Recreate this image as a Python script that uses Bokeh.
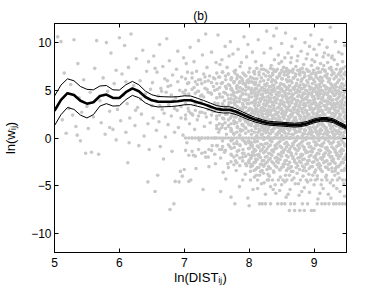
from bokeh.plotting import figure
from bokeh.models import (ColumnDataSource, LinearAxis, FixedTicker, Range1d,
                          CustomJSTickFormatter)
from bokeh.embed import file_html
from bokeh.resources import INLINE

# ---------------- data ----------------
x_ticks = [5, 6, 7, 8, 9]
y_ticks = [-10, -5, 0, 5, 10]

x_fit = [5.0, 5.1, 5.2, 5.3, 5.4, 5.5, 5.6, 5.7, 5.8, 5.9, 6.0, 6.1, 6.2, 6.3, 6.4, 6.5,
         6.6, 6.7, 6.8, 6.9, 7.0, 7.1, 7.2, 7.3, 7.4, 7.5, 7.6, 7.7, 7.8, 7.9, 8.0, 8.1,
         8.2, 8.3, 8.4, 8.5, 8.6, 8.7, 8.8, 8.9, 9.0, 9.1, 9.2, 9.3, 9.4, 9.5]
y_fit = [2.85, 4.00, 4.70, 4.50, 3.90, 3.60, 3.75, 4.40, 4.55, 4.20, 4.20, 4.80, 5.20, 4.90,
         4.30, 3.95, 3.80, 3.80, 3.80, 3.85, 3.95, 3.95, 3.75, 3.55, 3.30, 3.05, 2.95, 2.95,
         2.75, 2.45, 2.15, 1.90, 1.70, 1.55, 1.50, 1.45, 1.40, 1.35, 1.40, 1.55, 1.80, 1.95,
         1.95, 1.80, 1.45, 1.10]
y_upper = [4.40, 5.55, 6.20, 6.00, 5.40, 5.10, 5.05, 5.45, 5.50, 5.05, 5.02, 5.58, 5.93, 5.58,
           4.92, 4.53, 4.35, 4.32, 4.30, 4.33, 4.42, 4.40, 4.17, 3.93, 3.66, 3.39, 3.28, 3.27,
           3.05, 2.73, 2.41, 2.14, 1.92, 1.75, 1.70, 1.65, 1.60, 1.55, 1.60, 1.75, 2.00, 2.15,
           2.15, 2.00, 1.65, 1.30]
y_lower = [1.30, 2.45, 3.20, 3.00, 2.40, 2.10, 2.45, 3.35, 3.60, 3.35, 3.38, 4.02, 4.47, 4.22,
           3.68, 3.37, 3.25, 3.28, 3.30, 3.37, 3.48, 3.50, 3.33, 3.17, 2.94, 2.71, 2.62, 2.63,
           2.45, 2.17, 1.89, 1.66, 1.48, 1.35, 1.30, 1.25, 1.20, 1.15, 1.20, 1.35, 1.60, 1.75,
           1.75, 1.60, 1.25, 0.90]

# scattered observations, read region by region
pts_short = [(5.05,10.6),(5.1,10.1),(5.12,1.9),(5.15,6.8),(5.18,0.5),(5.22,3.1),(5.25,5.6),(5.28,2.4),
    (5.3,10.3),(5.33,1.2),(5.36,7.8),(5.38,4.2),(5.4,-0.3),(5.42,2.7),(5.45,6.1),(5.48,-1.6),(5.5,3.3),
    (5.52,1.0),(5.55,4.8),(5.57,-1.5),(5.6,2.2),(5.62,7.3),(5.65,10.2),(5.68,-1.7),(5.7,3.9),(5.72,1.6),
    (5.75,6.3),(5.78,0.4),(5.8,10.0),(5.82,4.9),(5.85,2.8),(5.87,8.9),(5.9,0.9),(5.92,5.7),(5.95,-0.2),
    (5.97,3.0),(6.0,10.5),(6.02,1.8),(6.04,6.7),(6.06,4.5),(6.08,9.7),(6.1,0.6),(6.12,3.6),(6.14,7.4),
    (6.16,2.1),(6.18,10.9),(6.13,-2.6),(6.22,5.5),(6.24,1.3),(6.26,8.3),(6.28,3.2),(6.3,-0.8),(6.32,6.0),
    (6.34,2.5),(6.36,9.2),(6.38,0.2),(6.4,4.6),(6.42,7.0),(6.44,1.5),(6.46,-1.2),(6.48,5.1),(6.5,3.4),
    (6.1,5.9),(5.95,7.1),(5.35,0.3),(6.25,2.9),(6.45,8.0),(6.33,4.1),(5.85,1.1),(6.15,-0.5),(6.44,-4.6)]

pts_mid = [(6.51,5.8),(6.52,2.1),(6.53,8.6),(6.55,-5.6),(6.56,3.9),(6.57,0.8),(6.58,6.9),(6.6,4.4),
    (6.61,1.7),(6.62,9.8),(6.63,-0.9),(6.64,5.2),(6.66,3.0),(6.67,7.5),(6.68,-2.2),(6.69,2.6),(6.7,6.2),
    (6.71,0.1),(6.72,4.8),(6.73,10.4),(6.75,1.4),(6.76,3.5),(6.77,8.1),(6.78,-7.5),(6.79,5.5),(6.8,2.3),
    (6.81,-1.4),(6.82,6.6),(6.83,3.9),(6.84,-6.9),(6.85,0.6),(6.86,-4.55),(6.87,4.2),(6.88,7.2),(6.89,2.9),
    (6.9,9.1),(6.91,1.1),(6.92,-4.6),(6.93,5.0),(6.94,-3.5),(6.95,3.3),(6.96,6.4),(6.97,-4.0),(6.98,0.3),
    (6.99,8.4),(7.0,-3.3),(7.01,4.6),(7.02,2.0),(7.03,7.8),(7.04,-0.5),(7.05,5.7),(7.06,3.1),(7.07,-4.55),
    (7.08,1.5),(7.09,9.5),(7.1,-4.4),(7.11,4.0),(7.12,6.8),(7.13,2.4),(7.14,-1.8),(7.15,5.3),(7.16,0.9),
    (7.17,3.6),(7.18,-3.2),(7.19,7.0),(7.2,1.9),(7.21,4.9),(7.22,10.2),(7.23,-0.2),(7.24,2.7),(7.25,6.1),
    (7.26,3.8),(7.27,0.0),(7.28,8.7),(7.29,-5.4),(7.3,4.3),(7.31,1.2),(7.32,5.9),(7.33,-2.0),(7.34,2.2),
    (7.35,7.4),(7.36,0.0),(7.37,3.4),(7.38,-1.2),(7.39,6.5),(7.4,1.6),(7.41,4.7),(7.42,9.0),(7.43,-0.8),
    (7.44,2.8),(7.45,5.4),(7.46,0.0),(7.47,3.7),(7.48,-2.7),(7.49,7.9),(7.5,1.0),(6.55,7.3),(6.65,4.9),
    (6.74,6.0),(6.8,4.5),(6.9,5.9),(6.98,4.8),(7.05,6.9),(7.1,2.6),(7.15,8.0),(7.2,5.6),(7.25,4.4),
    (7.3,6.7),(7.35,5.1),(7.4,3.0),(7.45,6.3),(7.02,3.6),(6.95,2.1),(6.85,3.1),(6.75,5.4),(6.62,3.4),
    (7.33,10.9),(7.12,0.0),(7.22,0.0),(6.59,-3.9),(7.38,-3.0)]

pts_long = [(7.52,10.8),(7.58,8.2),(7.63,9.6),(7.66,7.4),(7.71,10.1),(7.75,8.8),(7.79,7.1),(7.83,9.3),
    (7.88,7.9),(7.92,10.6),(7.96,8.5),(8.01,7.3),(8.05,9.0),(8.1,8.0),(8.14,10.3),(8.19,7.6),(8.23,8.9),
    (8.27,11.2),(7.55,7.7),(7.69,8.6),(7.86,7.5),(8.08,7.0),(8.22,7.2),(7.98,9.8),
    (7.51,5.1),(7.53,6.4),(7.55,4.3),(7.57,5.7),(7.59,6.9),(7.61,4.8),(7.62,3.9),(7.64,6.1),(7.65,5.2),
    (7.67,4.5),(7.68,6.7),(7.7,5.5),(7.72,4.1),(7.73,6.3),(7.74,5.0),(7.76,4.7),(7.77,5.9),(7.78,6.8),
    (7.8,4.2),(7.81,5.4),(7.82,6.5),(7.84,4.9),(7.85,5.8),(7.87,4.4),(7.89,6.2),(7.9,5.1),(7.91,4.0),
    (7.93,6.6),(7.94,5.6),(7.95,4.6),(7.97,6.0),(7.99,5.3),(8.0,4.3),(8.02,6.4),(8.03,5.0),(8.04,4.7),
    (8.06,5.8),(8.07,6.9),(8.09,4.4),
    (7.5,2.3),(7.52,3.6),(7.54,1.5),(7.56,2.9),(7.58,1.1),(7.6,3.4),(7.61,2.0),(7.63,1.6),(7.64,3.0),
    (7.66,2.5),(7.68,1.3),(7.69,3.7),(7.71,2.1),(7.72,1.0),(7.74,3.2),(7.75,2.6),(7.77,1.7),(7.78,3.5),
    (7.8,2.2),(7.82,1.2),(7.83,2.9),(7.85,3.8),(7.86,1.8),(7.88,2.5),(7.89,1.4),(7.91,3.3),(7.92,2.0),
    (7.94,1.1),(7.95,2.7),(7.97,3.6),(7.98,1.6),(8.0,2.4),(8.01,3.1),(8.03,1.3),(8.05,2.8),(8.06,3.7),
    (8.08,1.9),
    (7.51,-0.8),(7.53,0.6),(7.56,-2.1),(7.59,-0.3),(7.62,-1.5),(7.65,0.4),(7.67,-2.7),(7.7,-0.9),
    (7.73,-1.8),(7.76,0.5),(7.79,-2.4),(7.81,-0.6),(7.84,-1.3),(7.87,0.7),(7.9,-2.0),(7.93,-0.4),
    (7.96,-2.9),(7.99,-1.1),(7.58,-1.2),(7.74,-0.2),(7.92,-1.6),
    (7.56,-5.6),(7.6,-3.6),(7.64,-4.3),(7.72,-6.2),(7.78,-6.9),(7.8,-3.4),(7.85,-5.1),(7.9,-4.4),
    (7.94,-3.8),(7.98,-6.3),(8.02,-4.4),(8.06,-5.4),(8.1,-3.3),(8.13,-4.4),(8.16,-6.9),(8.19,-4.8),
    (8.22,-3.7),(8.25,-5.9),(8.28,-4.4),(7.68,-3.1),(8.0,-7.1)]

pts_far = [(8.33,9.4),(8.38,10.7),(8.45,8.7),(8.5,9.9),(8.56,11.0),(8.6,8.9),(8.66,9.6),(8.71,10.4),
    (8.75,8.6),(8.8,9.1),(8.86,10.0),(8.9,8.8),(8.95,10.8),(9.0,9.3),(9.04,8.7),(9.08,9.8),(9.12,10.3),
    (9.16,8.9),(9.2,9.5),(9.25,11.6),(9.28,8.6),(9.33,10.1),(9.38,9.0),(9.43,8.8),(9.47,9.7),(8.42,11.5),
    (8.93,9.6),(9.22,8.7),
    (8.31,6.5),(8.34,7.6),(8.36,6.1),(8.39,8.2),(8.41,7.0),(8.43,6.4),(8.46,7.8),(8.48,6.8),(8.51,6.2),
    (8.53,7.4),(8.55,8.4),(8.58,6.6),(8.6,7.1),(8.62,6.0),(8.64,7.9),(8.67,6.9),(8.69,6.3),(8.72,7.5),
    (8.74,8.1),(8.77,6.7),(8.79,7.2),(8.81,6.1),(8.84,7.7),(8.86,6.5),(8.88,8.3),(8.91,7.0),(8.93,6.2),
    (8.96,7.6),(8.98,6.8),(9.01,8.0),(9.03,6.4),(9.05,7.3),(9.07,6.9),(9.1,7.8),(9.12,6.3),(9.14,8.5),
    (9.17,7.1),(9.19,6.6),(9.21,7.9),(9.24,6.2),(9.26,7.4),(9.29,6.8),(9.31,8.2),(9.34,6.5),(9.36,7.7),
    (9.39,6.1),(9.41,7.2),(9.44,8.0),(9.46,6.7),(9.49,7.5),(8.37,7.2),(8.5,8.0),(8.65,8.4),(8.83,6.9),
    (8.97,8.2),(9.09,6.0),(9.27,8.4),(9.4,6.9),(8.57,7.0),(9.15,7.6),
    (8.02,-3.5),(8.11,-3.9),(8.2,-3.4),(8.29,-3.8),(8.38,-3.6),(8.47,-3.3),(8.56,-3.9),(8.65,-3.5),
    (8.74,-3.7),(8.83,-3.4),(8.92,-3.8),(9.01,-3.6),(9.1,-3.3),(9.19,-3.9),(9.28,-3.5),(9.37,-3.7),
    (9.46,-3.4),(8.6,-3.2),(9.05,-3.95),(9.33,-3.2),
    (8.3,-4.4),(8.36,-4.4),(8.45,-4.4),(8.52,-4.4),(8.58,-4.4),(8.66,-4.4),(8.79,-4.4),(8.88,-4.4),
    (8.95,-4.4),(9.02,-4.4),(9.12,-4.4),(9.2,-4.4),(9.28,-4.4),(9.36,-4.4),(9.44,-4.4),(9.49,-4.4),
    (8.33,-5.1),(8.41,-5.8),(8.5,-4.9),(8.57,-6.2),(8.63,-5.4),(8.71,-4.8),(8.77,-6.0),(8.85,-5.2),
    (8.93,-5.7),(9.0,-4.9),(9.06,-6.4),(9.14,-5.3),(9.22,-5.9),(9.3,-5.0),(9.4,-5.6),(9.47,-6.1),
    (8.47,-5.5),(9.26,-6.3),
    (8.2,-6.9),(8.25,-6.9),(8.33,-6.9),(8.44,-6.9),(8.5,-6.9),(8.55,-6.9),(8.64,-6.9),(8.7,-6.9),
    (8.82,-6.9),(8.9,-6.9),(9.05,-6.9),(9.12,-6.9),(9.17,-6.9),(9.23,-6.9),(9.3,-6.9),(9.34,-6.9),
    (9.39,-6.9),(9.44,-6.9),(9.48,-6.9),
    (8.62,-7.6),(8.7,-7.6),(8.78,-7.6),(8.96,-7.6),(9.0,-7.6),(8.85,-7.6),
    (8.08,-4.1),(8.16,-3.9),(8.23,-4.7),(8.31,-4.0),(8.4,-4.9),(8.48,-4.1),(8.55,-4.6),(8.62,-3.9),
    (8.69,-4.2),(8.76,-4.8),(8.83,-4.0),(8.9,-4.6),(8.98,-3.9),(9.05,-4.3),(9.11,-4.9),(9.18,-4.1),
    (9.25,-4.7),(9.32,-3.9),(9.39,-4.2),(9.46,-4.8),(8.13,-5.3),(8.37,-5.4),(8.6,-5.9),(8.81,-5.6),
    (9.09,-5.8),(9.35,-5.3)]

# dense part of the cloud, read as rows of values along fixed sets of distances
xs_near = [7.02,7.07,7.12,7.17,7.22,7.27,7.32,7.37,7.42,7.47]
rows_near = [
    [6.2,5.8,6.3,5.9,6.1,5.7,6.4,6.0,5.8,6.2],
    [5.0,4.6,5.1,4.7,4.9,4.5,5.2,4.8,4.6,5.0],
    [2.4,2.8,2.5,2.9,2.3,2.7,2.6,3.0,2.4,2.8],
    [0.0,0.0,0.0,0.0,0.0,0.0,0.0,0.0,0.0,0.0],
    [-1.3,-1.8,-1.4,-1.9,-1.2,-1.6,-1.5,-2.0,-1.3,-1.7],
]
xs_mid = [7.50,7.545,7.59,7.635,7.68,7.725,7.77,7.815,7.86,7.905,7.95,7.995,8.04,8.085]
rows_mid = [
    [6.8,6.4,6.9,6.5,6.7,6.3,7.0,6.6,6.4,6.8,6.5,6.9,6.3,6.7],
    [5.7,5.3,5.8,5.4,5.6,5.2,5.9,5.5,5.3,5.7,5.4,5.8,5.2,5.6],
    [4.2,4.6,4.3,4.7,4.1,4.5,4.4,4.8,4.2,4.6,4.0,4.5,4.3,4.7],
    [3.5,3.1,3.6,3.2,3.4,3.0,3.7,3.3,3.1,3.5,3.2,3.6,3.0,3.4],
    [2.0,2.4,2.1,2.5,1.9,2.3,2.2,2.6,2.0,2.4,1.8,2.3,2.1,2.5],
    [1.3,0.9,1.4,1.0,1.2,0.8,1.5,1.1,0.9,1.3,1.0,1.4,0.8,1.2],
    [0.0,0.0,0.0,0.0,0.0,0.0,0.0,0.0,0.0,0.0,0.0,0.0,0.0,0.0],
    [-0.8,-1.2,-0.9,-1.3,-0.7,-1.1,-1.0,-1.4,-0.8,-1.2,-0.6,-1.1,-0.9,-1.3],
]
xs_edge = [7.72,7.765,7.81,7.855,7.9,7.945,7.99,8.035,8.08]
rows_edge = [
    [6.1,5.8,6.2,5.9,6.0,5.7,6.1,5.9,6.2],
    [5.1,4.8,5.2,4.9,4.7,5.0,5.2,4.8,5.0],
    [3.7,4.0,3.8,4.1,3.6,3.9,4.0,3.7,3.9],
    [2.9,2.6,2.8,2.5,3.0,2.7,2.9,2.6,2.8],
    [1.5,1.8,1.6,1.9,1.4,1.7,1.8,1.5,1.7],
    [0.7,0.4,0.6,0.3,0.8,0.5,0.7,0.4,0.6],
    [-0.3,-0.6,-0.4,-0.7,-0.2,-0.5,-0.3,-0.6,-0.4],
    [-1.7,-2.0,-1.8,-2.1,-1.6,-1.9,-1.7,-2.0,-1.8],
    [-2.5,-2.8,-2.6,-2.9,-2.4,-2.7,-2.5,-2.8,-2.6],
]
xs_dense = [8.100,8.135,8.170,8.205,8.240,8.275,8.310,8.345,8.380,8.415,8.450,8.485,8.520,8.555,
            8.590,8.625,8.660,8.695,8.730,8.765,8.800,8.835,8.870,8.905,8.940,8.975,9.010,9.045,
            9.080,9.115,9.150,9.185,9.220,9.255,9.290,9.325,9.360,9.395,9.430,9.465,9.500]
rows_dense = [
    [5.8,5.5,5.9,5.3,5.6,5.7,5.4,5.9,5.5,5.8,5.3,5.7,5.6,5.4,5.9,5.5,5.8,5.3,5.7,5.4,5.9,5.6,5.5,5.8,
     5.3,5.7,5.9,5.4,5.6,5.8,5.5,5.3,5.9,5.7,5.4,5.6,5.8,5.3,5.7,5.5,5.9],
    [5.2,4.8,5.0,4.6,5.1,4.9,4.7,5.0,5.2,4.6,4.8,5.1,4.9,4.7,5.2,5.0,4.6,5.1,4.8,4.9,5.2,4.7,5.0,4.6,
     5.1,4.8,5.2,4.7,4.9,5.0,4.6,5.1,4.8,5.2,4.7,5.0,4.9,4.6,5.2,4.8,5.1],
    [4.0,4.5,4.1,4.4,3.9,4.3,4.0,4.5,4.2,4.1,4.4,3.9,4.3,4.5,4.0,4.2,4.4,4.1,3.9,4.5,4.3,4.0,4.2,4.4,
     3.9,4.3,4.1,4.5,4.4,4.1,4.5,3.9,4.2,4.3,4.0,4.5,4.1,4.4,3.9,4.3,4.2],
    [3.7,3.4,3.8,3.2,3.5,3.6,3.3,3.8,3.4,3.7,3.2,3.6,3.5,3.3,3.8,3.4,3.7,3.2,3.6,3.3,3.8,3.5,3.4,3.7,
     3.2,3.6,3.8,3.3,3.5,3.7,3.4,3.2,3.8,3.6,3.3,3.5,3.7,3.2,3.6,3.4,3.8],
    [3.1,2.7,2.9,2.5,3.0,2.8,2.6,2.9,3.1,2.5,2.7,3.0,2.8,2.6,3.1,2.9,2.5,3.0,2.7,2.8,3.1,2.6,2.9,2.5,
     3.0,2.7,3.1,2.6,2.8,2.9,2.5,3.0,2.7,3.1,2.6,2.9,2.8,2.5,3.1,2.7,3.0],
    [1.9,2.4,2.0,2.3,1.8,2.2,1.9,2.4,2.1,2.0,2.3,1.8,2.2,2.4,1.9,2.1,2.3,2.0,1.8,2.4,2.2,1.9,2.1,2.3,
     1.8,2.2,2.0,2.4,2.3,2.0,2.4,1.8,2.1,2.2,1.9,2.4,2.0,2.3,1.8,2.2,2.1],
    [1.6,1.3,1.7,1.1,1.4,1.5,1.2,1.7,1.3,1.6,1.1,1.5,1.4,1.2,1.7,1.3,1.6,1.1,1.5,1.2,1.7,1.4,1.3,1.6,
     1.1,1.5,1.7,1.2,1.4,1.6,1.3,1.1,1.7,1.5,1.2,1.4,1.6,1.1,1.5,1.3,1.7],
    [1.0,0.6,0.8,0.4,0.9,0.7,0.5,0.8,1.0,0.4,0.6,0.9,0.7,0.5,1.0,0.8,0.4,0.9,0.6,0.7,1.0,0.5,0.8,0.4,
     0.9,0.6,1.0,0.5,0.7,0.8,0.4,0.9,0.6,1.0,0.5,0.8,0.7,0.4,1.0,0.6,0.9],
    [0.0,0.0,0.0,0.0,0.0,0.0,0.0,0.0,0.0,0.0,0.0,0.0,0.0,0.0,0.0,0.0,0.0,0.0,0.0,0.0,0.0,0.0,0.0,0.0,
     0.0,0.0,0.0,0.0,0.0,0.0,0.0,0.0,0.0,0.0,0.0,0.0,0.0,0.0,0.0,0.0,0.0],
]
xs_dense2 = [8.118,8.153,8.188,8.223,8.258,8.293,8.328,8.363,8.398,8.433,8.468,8.503,8.538,8.573,
             8.608,8.643,8.678,8.713,8.748,8.783,8.818,8.853,8.888,8.923,8.958,8.993,9.028,9.063,
             9.098,9.133,9.168,9.203,9.238,9.273,9.308,9.343,9.378,9.413,9.448,9.483]
rows_dense2 = [
    [7.3,6.9,7.2,6.7,7.1,6.9,7.3,6.8,7.0,7.2,6.7,7.1,6.9,7.3,6.8,7.0,7.2,6.7,7.1,6.9,7.3,6.8,7.2,7.0,
     6.7,7.1,6.8,7.3,6.9,7.2,7.0,6.7,7.3,7.1,6.8,7.2,6.7,7.0,7.3,6.9],
    [6.2,6.6,6.3,6.0,6.5,6.1,6.4,6.6,6.0,6.3,6.5,6.2,6.6,6.1,6.4,6.0,6.3,6.5,6.1,6.6,6.2,6.4,6.0,6.5,
     6.3,6.1,6.6,6.2,6.4,6.0,6.5,6.3,6.1,6.6,6.2,6.4,6.0,6.5,6.2,6.6],
    [5.15,5.55,5.25,4.95,5.45,5.05,5.35,5.55,4.95,5.25,5.45,5.15,5.55,5.05,5.35,4.95,5.25,5.45,5.05,
     5.55,5.15,5.35,4.95,5.45,5.25,5.05,5.55,5.15,5.35,4.95,5.45,5.25,5.05,5.55,5.15,5.35,4.95,5.45,
     5.15,5.55],
    [4.45,4.85,4.55,4.25,4.75,4.35,4.65,4.85,4.25,4.55,4.75,4.45,4.85,4.35,4.65,4.25,4.55,4.75,4.35,
     4.85,4.45,4.65,4.25,4.75,4.55,4.35,4.85,4.45,4.65,4.25,4.75,4.55,4.35,4.85,4.45,4.65,4.25,4.75,
     4.45,4.85],
    [4.15,3.75,4.05,3.55,3.95,3.75,4.15,3.65,3.85,4.05,3.55,3.95,3.75,4.15,3.65,3.85,4.05,3.55,3.95,
     3.75,4.15,3.65,4.05,3.85,3.55,3.95,3.65,4.15,3.75,4.05,3.85,3.55,4.15,3.95,3.65,4.05,3.55,3.85,
     4.15,3.75],
    [3.05,3.45,3.15,2.85,3.35,2.95,3.25,3.45,2.85,3.15,3.35,3.05,3.45,2.95,3.25,2.85,3.15,3.35,2.95,
     3.45,3.05,3.25,2.85,3.35,3.15,2.95,3.45,3.05,3.25,2.85,3.35,3.15,2.95,3.45,3.05,3.25,2.85,3.35,
     3.05,3.45],
    [2.75,2.35,2.65,2.15,2.55,2.35,2.75,2.25,2.45,2.65,2.15,2.55,2.35,2.75,2.25,2.45,2.65,2.15,2.55,
     2.35,2.75,2.25,2.65,2.45,2.15,2.55,2.25,2.75,2.35,2.65,2.45,2.15,2.75,2.55,2.25,2.65,2.15,2.45,
     2.75,2.35],
    [1.65,2.05,1.75,1.45,1.95,1.55,1.85,2.05,1.45,1.75,1.95,1.65,2.05,1.55,1.85,1.45,1.75,1.95,1.55,
     2.05,1.65,1.85,1.45,1.95,1.75,1.55,2.05,1.65,1.85,1.45,1.95,1.75,1.55,2.05,1.65,1.85,1.45,1.95,
     1.65,2.05],
    [1.35,0.95,1.25,0.75,1.15,0.95,1.35,0.85,1.05,1.25,0.75,1.15,0.95,1.35,0.85,1.05,1.25,0.75,1.15,
     0.95,1.35,0.85,1.25,1.05,0.75,1.15,0.85,1.35,0.95,1.25,1.05,0.75,1.35,1.15,0.85,1.25,0.75,1.05,
     1.35,0.95],
    [0.25,0.65,0.35,0.05,0.55,0.15,0.45,0.65,0.05,0.35,0.55,0.25,0.65,0.15,0.45,0.05,0.35,0.55,0.15,
     0.65,0.25,0.45,0.05,0.55,0.35,0.15,0.65,0.25,0.45,0.05,0.55,0.35,0.15,0.65,0.25,0.45,0.05,0.55,
     0.25,0.65],
]
xs_neg = [8.00,8.05,8.10,8.15,8.20,8.25,8.30,8.35,8.40,8.45,8.50,8.55,8.60,8.65,8.70,8.75,8.80,
          8.85,8.90,8.95,9.00,9.05,9.10,9.15,9.20,9.25,9.30,9.35,9.40,9.45,9.50]
rows_neg = [
    [-0.5,-0.8,-0.4,-1.0,-0.7,-0.6,-0.9,-0.4,-0.8,-0.5,-1.0,-0.6,-0.7,-0.9,-0.4,-0.8,-0.5,-1.0,-0.6,
     -0.9,-0.4,-0.7,-0.8,-0.5,-1.0,-0.6,-0.4,-0.9,-0.7,-0.5,-0.8],
    [-1.1,-1.5,-1.3,-1.7,-1.2,-1.4,-1.6,-1.3,-1.1,-1.7,-1.5,-1.2,-1.4,-1.6,-1.1,-1.3,-1.7,-1.2,-1.5,
     -1.4,-1.1,-1.6,-1.3,-1.7,-1.2,-1.5,-1.1,-1.6,-1.4,-1.3,-1.7],
    [-2.3,-1.8,-2.2,-1.9,-2.4,-2.0,-2.3,-1.8,-2.1,-2.2,-1.9,-2.4,-2.0,-1.8,-2.3,-2.1,-1.9,-2.2,-2.4,
     -1.8,-2.0,-2.3,-2.1,-1.9,-2.4,-2.0,-2.2,-1.8,-1.9,-2.2,-1.8],
    [-2.6,-2.9,-2.5,-3.1,-2.8,-2.7,-3.0,-2.5,-2.9,-2.6,-3.1,-2.7,-2.8,-3.0,-2.5,-2.9,-2.6,-3.1,-2.7,
     -3.0,-2.5,-2.8,-2.9,-2.6,-3.1,-2.7,-2.5,-3.0,-2.8,-2.6,-2.9],
]
xs_neg2 = [8.025,8.075,8.125,8.175,8.225,8.275,8.325,8.375,8.425,8.475,8.525,8.575,8.625,8.675,
           8.725,8.775,8.825,8.875,8.925,8.975,9.025,9.075,9.125,9.175,9.225,9.275,9.325,9.375,
           9.425,9.475]
rows_neg2 = [
    [-0.45,-0.05,-0.35,-0.65,-0.15,-0.55,-0.25,-0.05,-0.65,-0.35,-0.15,-0.45,-0.05,-0.55,-0.25,
     -0.65,-0.35,-0.15,-0.55,-0.05,-0.45,-0.25,-0.65,-0.15,-0.35,-0.55,-0.05,-0.45,-0.25,-0.65],
    [-0.75,-1.15,-0.85,-1.35,-0.95,-1.15,-0.75,-1.25,-1.05,-0.85,-1.35,-0.95,-1.15,-0.75,-1.25,
     -1.05,-0.85,-1.35,-0.95,-1.15,-0.75,-1.25,-0.85,-1.05,-1.35,-0.95,-1.25,-0.75,-1.15,-0.85],
    [-1.85,-1.45,-1.75,-2.05,-1.55,-1.95,-1.65,-1.45,-2.05,-1.75,-1.55,-1.85,-1.45,-1.95,-1.65,
     -2.05,-1.75,-1.55,-1.95,-1.45,-1.85,-1.65,-2.05,-1.55,-1.75,-1.95,-1.45,-1.85,-1.65,-2.05],
    [-2.15,-2.55,-2.25,-2.75,-2.35,-2.55,-2.15,-2.65,-2.45,-2.25,-2.75,-2.35,-2.55,-2.15,-2.65,
     -2.45,-2.25,-2.75,-2.35,-2.55,-2.15,-2.65,-2.25,-2.45,-2.75,-2.35,-2.65,-2.15,-2.55,-2.25],
    [-3.0,-3.4,-3.1,-3.5,-2.95,-3.3,-3.2,-3.45,-3.05,-3.35,-3.0,-3.4,-3.15,-3.5,-3.1,-3.3,-2.95,
     -3.45,-3.2,-3.0,-3.35,-3.1,-3.5,-3.05,-3.3,-3.15,-3.45,-3.0,-3.4,-3.2],
]

title_text = "(b)"
x_label = "ln(DIST\u1d62\u2c7c)"
y_label = "ln(w\u1d62\u2c7c)"

# ---------------- assemble ----------------
sx, sy = [], []
for group in (pts_short, pts_mid, pts_long, pts_far):
    for a, b in group:
        sx.append(a); sy.append(b)
for xs, rows in ((xs_near, rows_near), (xs_mid, rows_mid), (xs_edge, rows_edge),
                 (xs_dense, rows_dense), (xs_dense2, rows_dense2),
                 (xs_neg, rows_neg), (xs_neg2, rows_neg2)):
    for row in rows:
        for a, b in zip(xs, row):
            sx.append(a); sy.append(b)

scatter_src = ColumnDataSource(dict(x=sx, y=sy))
fit_src = ColumnDataSource(dict(x=x_fit, y=y_fit, up=y_upper, lo=y_lower))

FONT = "Liberation Sans"

p = figure(width=374, height=289, output_backend="svg", toolbar_location=None,
           x_range=Range1d(5, 9.5), y_range=Range1d(-12, 12),
           min_border_left=50, min_border_right=28, min_border_top=23, min_border_bottom=37,
           background_fill_color="white", border_fill_color="white")
p.outline_line_color = "black"
p.outline_line_width = 1
p.xgrid.visible = False
p.ygrid.visible = False

p.title.text = title_text
p.title.align = "center"
p.title.text_font = FONT
p.title.text_font_size = "12px"
p.title.text_font_style = "normal"
p.title.text_color = "black"
p.title.standoff = 2

p.scatter("x", "y", source=scatter_src, size=3.6, marker="circle",
          fill_color="#c8c8c8", line_color=None)
p.line("x", "up", source=fit_src, line_color="black", line_width=1.0)
p.line("x", "lo", source=fit_src, line_color="black", line_width=1.0)
p.line("x", "y", source=fit_src, line_color="black", line_width=2.6)

minus_fmt = CustomJSTickFormatter(code="return tick < 0 ? '\\u2212' + (-tick) : String(tick);")
blank_fmt = CustomJSTickFormatter(code="return '';")

def style_axis(ax, ticks):
    ax.ticker = FixedTicker(ticks=ticks)
    ax.minor_tick_line_color = None
    ax.major_tick_in = 4
    ax.major_tick_out = 0
    ax.axis_line_color = "black"
    ax.major_tick_line_color = "black"
    ax.major_label_text_font = FONT
    ax.major_label_text_font_size = "12px"
    ax.major_label_text_color = "black"
    ax.axis_label_text_font = FONT
    ax.axis_label_text_font_size = "13px"
    ax.axis_label_text_font_style = "normal"
    ax.axis_label_text_color = "black"

xa = p.xaxis[0]
style_axis(xa, x_ticks)
xa.major_label_standoff = 5
xa.axis_label = x_label
xa.axis_label_standoff = 0

ya = p.yaxis[0]
style_axis(ya, y_ticks)
ya.formatter = minus_fmt
ya.major_label_standoff = 3
ya.axis_label = y_label
ya.axis_label_standoff = 10

top = LinearAxis(formatter=blank_fmt)
style_axis(top, x_ticks)
top.major_label_standoff = 0
p.add_layout(top, "above")
right = LinearAxis(formatter=blank_fmt)
style_axis(right, y_ticks)
right.major_label_standoff = 0
p.add_layout(right, "right")

open("out.html", "w").write(file_html(p, INLINE))
